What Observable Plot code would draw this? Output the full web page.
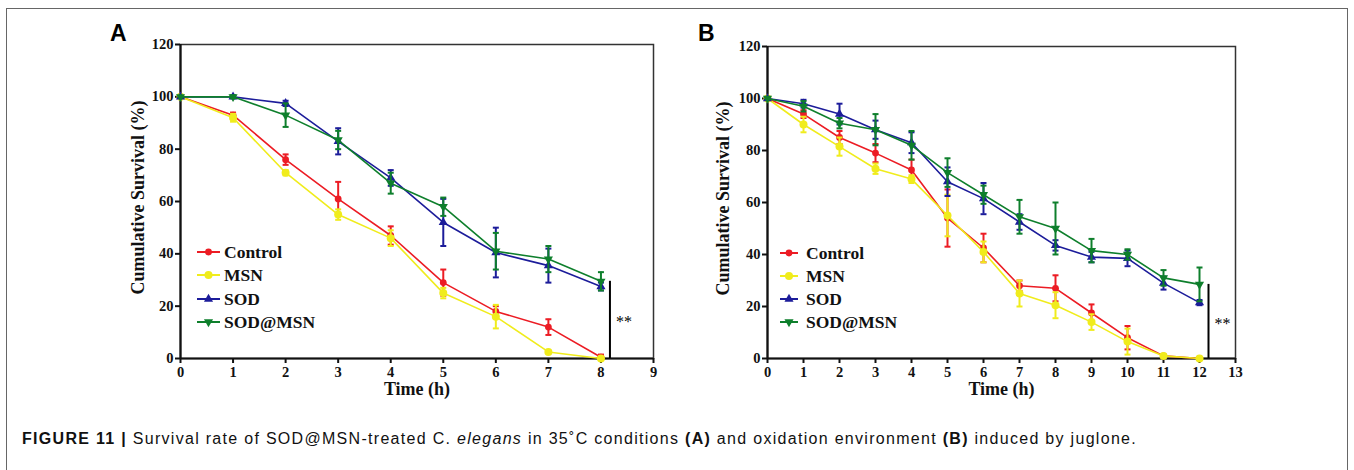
<!DOCTYPE html>
<html><head><meta charset="utf-8">
<script src="https://cdn.jsdelivr.net/npm/d3@7"></script>
<script src="https://cdn.jsdelivr.net/npm/@observablehq/plot@0.6"></script>
<style>
body{margin:0;background:#fff;}
#wrap{position:relative;width:1354px;height:470px;overflow:hidden;background:#fff;}
#border{position:absolute;left:6px;top:8px;width:1340px;height:520px;border:1px solid #666;}
.panel{position:absolute;top:20px;}
.letter{position:absolute;top:22px;font-family:"Liberation Sans",Arial,sans-serif;font-weight:bold;font-size:23px;line-height:23px;color:#000;}
.legend{position:absolute;font-family:"Liberation Serif","Times New Roman",serif;font-weight:bold;font-size:17.5px;color:#111;}
.legend .row{position:absolute;left:0;height:20px;white-space:nowrap;}
.legend svg{position:absolute;left:0;top:0;}
.legend span{position:absolute;top:0;line-height:20px;}
#cap{position:absolute;left:22px;top:431px;font-family:"Liberation Sans",Arial,sans-serif;font-size:16px;line-height:16px;color:#111;white-space:nowrap;}
</style></head><body>
<div id="wrap"><div id="border"></div></div>
<script>
// ---------- data ----------
const seriesNames = ["Control", "MSN", "SOD", "SOD@MSN"];
const seriesColors = ["#ec1c24", "#f0ec1c", "#1c1c9a", "#0e7f2c"];
const seriesSymbols = ["circle", "circle", "triangle", "triangle"];
const seriesRotate = [0, 0, 0, 180];

const xTicksA = [0, 1, 2, 3, 4, 5, 6, 7, 8, 9];
const xTicksB = [0, 1, 2, 3, 4, 5, 6, 7, 8, 9, 10, 11, 12, 13];
const yTicks = [0, 20, 40, 60, 80, 100, 120];

// Panel A (35 °C)
const timeA = [0, 1, 2, 3, 4, 5, 6, 7, 8];
const controlA    = [100, 93, 76, 61, 47, 29, 18, 12, 0.5];
const controlAErr = [0, 1, 2, 6.5, 3.5, 5, 2, 3, 1];
const msnA        = [100, 92, 71, 55, 46, 25, 16, 2.5, 0];
const msnAErr     = [0, 1.5, 1, 2, 3, 2, 4.5, 0.5, 0];
const sodA        = [100, 100, 97.5, 83, 69, 52, 40.5, 35.5, 27.5];
const sodAErr     = [0, 0.5, 1, 5, 3, 9, 9.5, 6.5, 1.5];
const sodMsnA     = [100, 100, 93, 83.5, 67, 58, 41, 38, 29.5];
const sodMsnAErr  = [0, 0.5, 4.5, 3.5, 4, 3.5, 7, 5, 3.5];

// Panel B (juglone)
const timeB = [0, 1, 2, 3, 4, 5, 6, 7, 8, 9, 10, 11, 12];
const controlB    = [100, 94, 85, 79, 72.5, 54, 42.5, 28, 27, 17.5, 8, 1, 0];
const controlBErr = [0, 1.5, 2.5, 3.5, 4, 11, 5.5, 2, 5, 3.3, 4.5, 0.5, 0];
const msnB        = [100, 90, 81.5, 73, 69, 55, 41, 25, 20.5, 14, 6.5, 1, 0];
const msnBErr     = [0, 3, 3.5, 2, 1.5, 8, 4, 5, 5, 3, 5, 0.5, 0];
const sodB        = [100, 98, 94, 88, 83, 68, 61.5, 52.5, 43.5, 39, 38.5, 29, 21.5];
const sodBErr     = [0, 1.5, 4, 3.5, 4, 5.5, 6, 3, 2, 2, 3, 2.5, 1];
const sodMsnB     = [100, 97, 90.5, 88, 82, 71.5, 63, 54.5, 50, 41.5, 40, 31, 28.5];
const sodMsnBErr  = [0, 2, 2, 6, 5.5, 5.5, 3.5, 6.5, 10, 4.5, 2, 3, 6.5];

const yTitle = "Cumulative Survival (%)";
const xTitle = "Time (h)";
const sigLabel = "**";

// ---------- helpers ----------
const capSymbol = {
  draw(ctx, size) { const r = Math.sqrt(size / Math.PI); ctx.moveTo(-r, 0); ctx.lineTo(r, 0); }
};

function rowsFor(times, vals, errs) {
  return times.map((t, i) => ({t, v: vals[i], lo: vals[i] - errs[i], hi: vals[i] + errs[i]}));
}

function panel(cfg) {
  const marks = [
    Plot.frame({stroke: "#333", strokeWidth: 1.5}),
    Plot.axisX({ticks: cfg.xTicks, tickSize: 5, tickPadding: 3, strokeWidth: 2, tickFormat: d => String(d), label: null, fontSize: 14.5}),
    Plot.axisY({ticks: yTicks, tickSize: 5, tickPadding: 2, strokeWidth: 2, tickFormat: d => String(d), label: null, fontSize: 14.5}),
    Plot.ruleY([0], {stroke: "#111", strokeWidth: 2.2}),
    Plot.ruleX([0], {stroke: "#111", strokeWidth: 2.2}),
  ];
  cfg.series.forEach((s, k) => {
    const rows = rowsFor(cfg.times, s.vals, s.errs);
    const c = seriesColors[k];
    const bars = rows.filter(d => d.hi > d.lo);
    marks.push(Plot.line(rows, {x: "t", y: "v", stroke: c, strokeWidth: 1.6}));
    marks.push(Plot.ruleX(bars, {x: "t", y1: "lo", y2: "hi", stroke: c, strokeWidth: 2}));
    marks.push(Plot.dot(bars, {x: "t", y: "hi", symbol: capSymbol, r: 3, stroke: c, fill: "none", strokeWidth: 2}));
    marks.push(Plot.dot(bars, {x: "t", y: "lo", symbol: capSymbol, r: 3, stroke: c, fill: "none", strokeWidth: 2}));
    marks.push(Plot.dot(rows, {x: "t", y: "v", symbol: seriesSymbols[k], rotate: seriesRotate[k], r: k === 1 ? 4 : 3.4, fill: c, stroke: "none"}));
  });
  // significance bracket between best and worst final values
  const last = cfg.times.length - 1;
  const finals = cfg.series.map(s => s.vals[last]);
  const sig = {x: cfg.times[last], top: d3.max(finals), bot: d3.min(finals)};
  marks.push(Plot.ruleX([sig], {x: "x", y1: "bot", y2: "top", dx: 9, stroke: "#000", strokeWidth: 2}));
  marks.push(Plot.text([sig], {x: "x", y: d => (d.top + d.bot) / 2, text: () => sigLabel, dx: 15, dy: 2, textAnchor: "start", fontSize: 16, fontWeight: "normal", fill: "#000"}));
  // titles
  marks.push(Plot.text([yTitle], {text: d => d, frameAnchor: "left", textAnchor: "middle", rotate: -90, dx: cfg.yTitleDx, dy: -4, fontSize: 18, fontWeight: "bold", fill: "#111"}));
  marks.push(Plot.text([xTitle], {text: d => d, frameAnchor: "bottom", textAnchor: "middle", dy: 36, fontSize: 18, fontWeight: "bold", fill: "#111"}));

  return Plot.plot({
    width: 580, height: 390,
    marginLeft: cfg.ml, marginRight: cfg.mr, marginTop: cfg.mt, marginBottom: 52,
    x: {domain: [0, cfg.xTicks[cfg.xTicks.length - 1]]},
    y: {domain: [0, 120]},
    style: {fontFamily: '"Liberation Serif","Times New Roman",serif', fontWeight: "bold", fontSize: "14.5px", color: "#111", background: "transparent", overflow: "visible"},
    marks
  });
}

const wrap = document.getElementById("wrap");

const pA = panel({
  times: timeA, xTicks: xTicksA, ml: 80, mr: 27, mt: 24, yTitleDx: -42,
  series: [{vals: controlA, errs: controlAErr}, {vals: msnA, errs: msnAErr}, {vals: sodA, errs: sodAErr}, {vals: sodMsnA, errs: sodMsnAErr}]
});
const pB = panel({
  times: timeB, xTicks: xTicksB, ml: 77, mr: 35, mt: 26, yTitleDx: -44,
  series: [{vals: controlB, errs: controlBErr}, {vals: msnB, errs: msnBErr}, {vals: sodB, errs: sodBErr}, {vals: sodMsnB, errs: sodMsnBErr}]
});
[[pA, 100], [pB, 690]].forEach(([el, left]) => {
  const d = document.createElement("div");
  d.className = "panel"; d.style.left = left + "px";
  d.appendChild(el); wrap.appendChild(d);
});

// panel letters
[["A", 110], ["B", 698]].forEach(([t, x]) => {
  const d = document.createElement("div");
  d.className = "letter"; d.style.left = x + "px"; d.textContent = t; wrap.appendChild(d);
});

// legends
function legend(left, top, lineW, textX, gap) {
  const box = document.createElement("div");
  box.className = "legend"; box.style.left = left + "px"; box.style.top = top + "px";
  seriesNames.forEach((name, k) => {
    const row = document.createElement("div");
    row.className = "row"; row.style.top = (k * gap) + "px";
    const sym = d3.symbol(seriesSymbols[k] === "circle" ? d3.symbolCircle : d3.symbolTriangle, Math.PI * (k === 1 ? 16 : 11.5))();
    row.innerHTML = `<svg width="${lineW}" height="20"><line x1="0" x2="${lineW}" y1="10" y2="10" stroke="${seriesColors[k]}" stroke-width="2"/>` +
      `<path d="${sym}" transform="translate(${lineW / 2},10) rotate(${seriesRotate[k]})" fill="${seriesColors[k]}"/></svg>` +
      `<span style="left:${textX}px">${name}</span>`;
    box.appendChild(row);
  });
  wrap.appendChild(box);
}
legend(197, 242, 23, 27, 23.3);
legend(780, 243, 18, 26, 23.1);

// caption
const cap = document.createElement("div");
cap.id = "cap";
cap.innerHTML = '<b>FIGURE 11 |</b> Survival rate of SOD@MSN-treated C. <i>elegans</i> in 35˚C conditions <b>(A)</b> and oxidation environment <b>(B)</b> induced by juglone.';
wrap.appendChild(cap);
{
  const target = 1115;
  const w = cap.getBoundingClientRect().width;
  const n = cap.textContent.length;
  cap.style.letterSpacing = ((target - w) / n).toFixed(3) + "px";
}
</script>
</body></html>
